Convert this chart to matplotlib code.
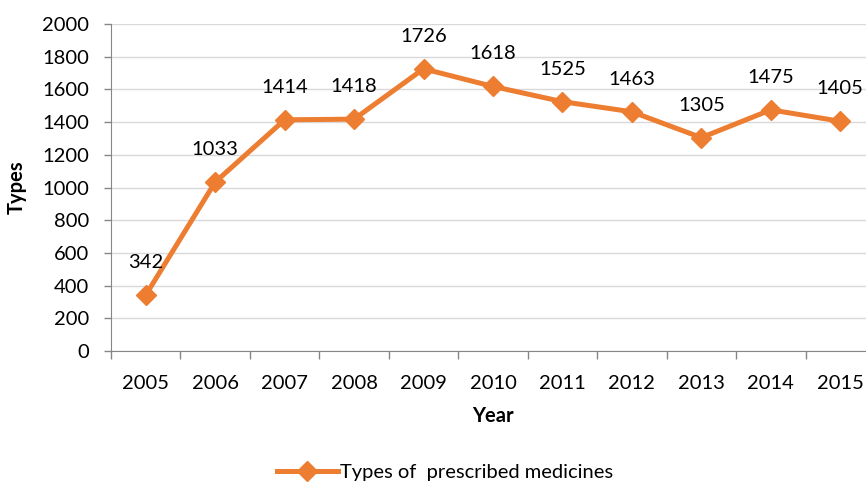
import matplotlib.pyplot as plt
import numpy as np

years = ['2005', '2006', '2007', '2008', '2009', '2010', '2011', '2012', '2013', '2014', '2015']
types = [342, 1033, 1414, 1418, 1726, 1618, 1525, 1463, 1305, 1475, 1405]

orange = '#ED7D31'
axis_gray = '#868686'
fs = 14.5

plt.rcParams['font.family'] = ['Lato', 'DejaVu Sans']

fig = plt.figure(figsize=(8.66, 4.86), dpi=100)
ax = fig.add_axes([111/866, 1-351/486, (875-111)/866, (351-24)/486])

x = np.arange(len(years))
ax.plot(x, types, color=orange, lw=3.6, marker='D', ms=10.5, mec=orange, mfc=orange,
        label='Types of  prescribed medicines', clip_on=False)
for xi, v in zip(x, types):
    ax.annotate(str(v), (xi, v), xytext=(0, 19.5), textcoords='offset points',
                ha='center', va='baseline', fontsize=fs, color='black')

ax.set_xlim(-0.5, len(years) - 0.5)
ax.set_ylim(0, 2000)
ax.set_yticks(np.arange(0, 2001, 200))
ax.tick_params(axis='y', labelsize=fs, length=5, color=axis_gray, width=1, pad=11)
ax.set_xticks(x)
ax.set_xticklabels(years)
ax.tick_params(axis='x', which='major', labelsize=fs, length=0, pad=17)
ax.set_xticks(np.arange(-0.5, len(years)), minor=True)
ax.tick_params(axis='x', which='minor', length=6, color=axis_gray, width=1)

ax.grid(axis='y', color='#D9D9D9', lw=1)
ax.set_axisbelow(True)
for s in ['top', 'right']:
    ax.spines[s].set_visible(False)
for s in ['left', 'bottom']:
    ax.spines[s].set_color(axis_gray)

ax.set_ylabel('Types', fontsize=fs, fontweight='bold', labelpad=11)
ax.set_xlabel('Year', fontsize=fs, fontweight='bold', labelpad=10)

fig.legend(loc='center', bbox_to_anchor=(445/866, 1-472/486), frameon=False,
           fontsize=fs, handlelength=3, handletextpad=0.1)

fig.savefig('out.png', dpi=100)
